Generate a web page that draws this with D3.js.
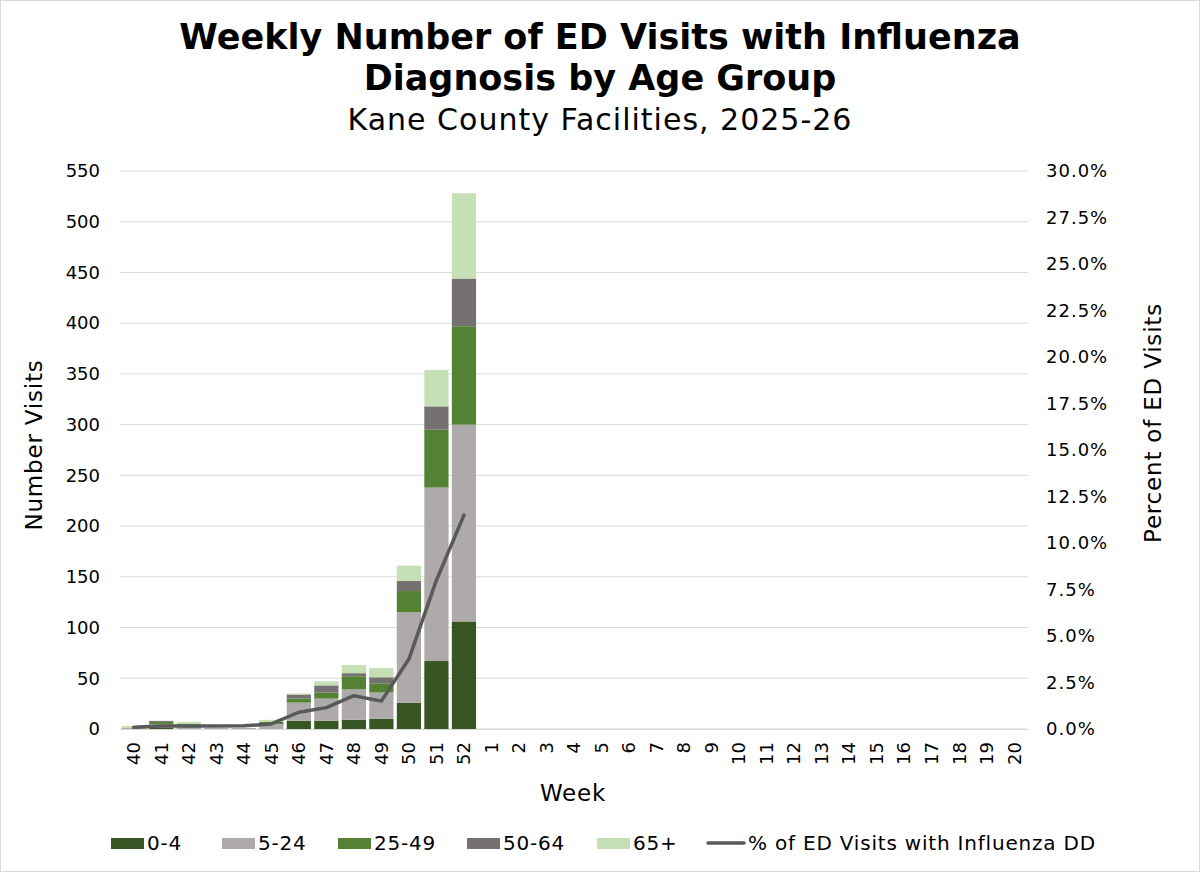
<!DOCTYPE html>
<meta charset="utf-8">
<script src="https://d3js.org/d3.v7.min.js"></script>
<style>
  body { margin: 0; background: #fff; }
  text { font-family: "DejaVu Sans", Verdana, sans-serif; fill: #000; }
</style>
<div id="chart"></div>
<script>

// weeks of the season (only 40-52 have data so far)
var weeks = ["40","41","42","43","44","45","46","47","48","49","50","51","52",
             "1","2","3","4","5","6","7","8","9","10","11","12","13","14","15","16","17","18","19","20"];

// visits by age group, weeks 40..52
var age0_4   = [0, 1, 0, 0, 0, 0,  8,  8,  9, 10, 26,  67, 106];
var age5_24  = [1, 4, 4, 1, 1, 5, 18, 22, 30, 26, 89, 171, 194];
var age25_49 = [0, 2, 1, 0, 0, 2,  4,  6, 13,  9, 21,  57,  97];
var age50_64 = [0, 1, 0, 0, 0, 0,  4,  7,  3,  6, 10,  23,  47];
var age65    = [2, 0, 2, 0, 0, 2,  1,  4,  8,  9, 15,  36,  84];

// percent of ED visits with influenza DD
var pctFlu = [0.09, 0.16, 0.16, 0.16, 0.17, 0.27, 0.9, 1.15, 1.79, 1.5, 3.76, 8.0, 11.5];

var leftTicks = d3.range(0, 551, 50);
var rightTicks = d3.range(0, 30.01, 2.5);

var groups = ["0-4", "5-24", "25-49", "50-64", "65+"];
var colors = ["#375623", "#aeaaaa", "#548235", "#767171", "#c5e0b4"];
var series = [age0_4, age5_24, age25_49, age50_64, age65];

var W = 1200, H = 872;
var margin = {top: 171, right: 172, bottom: 143, left: 120},
    width = W - margin.left - margin.right,
    height = H - margin.top - margin.bottom;

var svg = d3.select("#chart")
  .append("svg")
    .attr("width", W)
    .attr("height", H);

svg.append("rect")
  .attr("x", 0.5).attr("y", 0.5)
  .attr("width", W - 1).attr("height", H - 1)
  .attr("fill", "#fff")
  .attr("stroke", "#d9d9d9");

// titles
svg.append("text")
  .attr("x", 600).attr("y", 49)
  .attr("text-anchor", "middle")
  .attr("font-size", 35).attr("font-weight", "bold")
  .text("Weekly Number of ED Visits with Influenza");
svg.append("text")
  .attr("x", 600).attr("y", 90)
  .attr("text-anchor", "middle")
  .attr("font-size", 35).attr("font-weight", "bold")
  .text("Diagnosis by Age Group");
svg.append("text")
  .attr("x", 600).attr("y", 130)
  .attr("text-anchor", "middle")
  .attr("font-size", 30)
  .attr("letter-spacing", 1)
  .text("Kane County Facilities, 2025-26");

var g = svg.append("g")
  .attr("transform", "translate(" + margin.left + "," + margin.top + ")");

var x = d3.scaleBand()
  .domain(weeks)
  .range([0, width])
  .paddingInner(0.12)
  .paddingOuter(0.06);

var y = d3.scaleLinear().domain([0, 550]).range([height, 0]);
var y2 = d3.scaleLinear().domain([0, 30]).range([height, 0]);

// gridlines
g.selectAll(".grid")
  .data(leftTicks)
  .enter()
  .append("line")
    .attr("x1", 0).attr("x2", width)
    .attr("y1", function(d) { return y(d); })
    .attr("y2", function(d) { return y(d); })
    .attr("stroke", "#d9d9d9")
    .attr("stroke-width", 1);

// stacked bars
var rows = age0_4.map(function(v, i) {
  var r = {week: weeks[i]};
  groups.forEach(function(k, j) { r[k] = series[j][i]; });
  return r;
});
var stacked = d3.stack().keys(groups)(rows);

g.selectAll(".layer")
  .data(stacked)
  .enter()
  .append("g")
    .attr("fill", function(d, i) { return colors[i]; })
  .selectAll("rect")
  .data(function(d) { return d; })
  .enter()
  .append("rect")
    .attr("x", function(d) { return x(d.data.week); })
    .attr("y", function(d) { return y(d[1]); })
    .attr("width", x.bandwidth())
    .attr("height", function(d) { return y(d[0]) - y(d[1]); });

// percent line
var line = d3.line()
  .x(function(d, i) { return x(weeks[i]) + x.bandwidth() / 2; })
  .y(function(d) { return y2(d); });

g.append("path")
  .datum(pctFlu)
  .attr("fill", "none")
  .attr("stroke", "#595959")
  .attr("stroke-width", 3.5)
  .attr("stroke-linejoin", "round")
  .attr("stroke-linecap", "round")
  .attr("d", line);

// axes
var yAxis = g.append("g")
  .call(d3.axisLeft(y).tickValues(leftTicks).tickSize(0).tickPadding(20));
yAxis.select(".domain").remove();
yAxis.selectAll("text")
  .attr("font-size", 18)
  .attr("font-family", "DejaVu Sans, Verdana, sans-serif")
  .attr("fill", "#000");

var y2Axis = g.append("g")
  .attr("transform", "translate(" + width + ",0)")
  .call(d3.axisRight(y2).tickValues(rightTicks).tickSize(0).tickPadding(18)
    .tickFormat(function(d) { return d.toFixed(1) + "%"; }));
y2Axis.select(".domain").remove();
y2Axis.selectAll("text")
  .attr("font-size", 18)
  .attr("letter-spacing", 1)
  .attr("font-family", "DejaVu Sans, Verdana, sans-serif")
  .attr("fill", "#000");

var xAxis = g.append("g")
  .attr("transform", "translate(0," + height + ")")
  .call(d3.axisBottom(x).tickSize(0));
xAxis.select(".domain")
  .attr("stroke", "#d9d9d9");
xAxis.selectAll("text")
  .attr("font-size", 18)
  .attr("font-family", "DejaVu Sans, Verdana, sans-serif")
  .attr("fill", "#000")
  .attr("transform", "rotate(-90)")
  .attr("x", -13)
  .attr("y", 0)
  .attr("dy", "0.35em")
  .style("text-anchor", "end");

// axis titles
svg.append("text")
  .attr("transform", "translate(42,445) rotate(-90)")
  .attr("text-anchor", "middle")
  .attr("font-size", 23)
  .attr("letter-spacing", 0.8)
  .text("Number Visits");
svg.append("text")
  .attr("transform", "translate(1161,423) rotate(-90)")
  .attr("text-anchor", "middle")
  .attr("font-size", 23)
  .attr("letter-spacing", 0.8)
  .text("Percent of ED Visits");
svg.append("text")
  .attr("x", 573).attr("y", 801)
  .attr("text-anchor", "middle")
  .attr("font-size", 23)
  .attr("letter-spacing", 0.8)
  .text("Week");

// legend
var legendX = [111, 222, 338, 467, 597];
var leg = svg.append("g");
groups.forEach(function(k, i) {
  leg.append("rect")
    .attr("x", legendX[i]).attr("y", 838)
    .attr("width", 33).attr("height", 11)
    .attr("fill", colors[i]);
  leg.append("text")
    .attr("x", legendX[i] + 36).attr("y", 850)
    .attr("font-size", 20)
    .attr("letter-spacing", 0.8)
    .text(k);
});
leg.append("line")
  .attr("x1", 708).attr("x2", 744)
  .attr("y1", 843).attr("y2", 843)
  .attr("stroke", "#595959")
  .attr("stroke-width", 3.5)
  .attr("stroke-linecap", "round");
leg.append("text")
  .attr("x", 748).attr("y", 850)
  .attr("font-size", 20)
  .attr("letter-spacing", 0.8)
  .text("% of ED Visits with Influenza DD");

</script>
